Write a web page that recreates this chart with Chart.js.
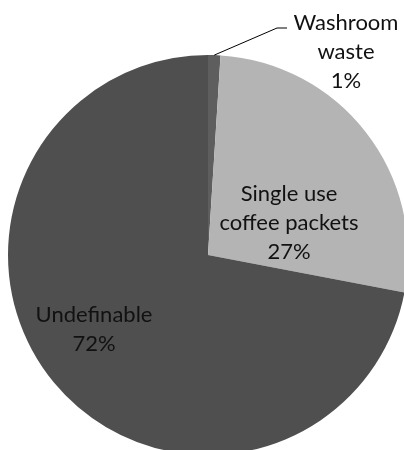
<!DOCTYPE html>
<html>
<head>
<meta charset="utf-8">
<script src="https://cdn.jsdelivr.net/npm/chart.js@4.4.1/dist/chart.umd.min.js"></script>
<style>
  html, body { margin: 0; padding: 0; background: #fff; overflow: hidden; }
  #wrap { width: 416px; height: 510px; }
</style>
</head>
<body>
<div id="wrap"><canvas id="c" width="416" height="510"></canvas></div>
<script>
const categories = ['Washroom waste', 'Single use coffee packets', 'Undefinable'];
const shares = [1, 27, 72];
const labelLines = [['Washroom', 'waste', '1%'], ['Single use', 'coffee packets', '27%'], ['Undefinable', '72%']];
const colors = ['#5e5e5e', '#b4b4b4', '#4f4f4f'];

// label anchors as fractions of the radius, relative to the pie centre
const labelAt = [[0.69, -1.015], [0.405, -0.16], [-0.57, 0.37]];

const pieLabels = {
  id: 'pieLabels',
  afterDatasetsDraw(chart) {
    const ctx = chart.ctx;
    const meta = chart.getDatasetMeta(0);
    ctx.save();
    ctx.font = '22px Lato, "Open Sans", sans-serif';
    ctx.fillStyle = '#111';
    ctx.textAlign = 'center';
    ctx.textBaseline = 'middle';
    meta.data.forEach((arc, i) => {
      const r = arc.outerRadius;
      const x = arc.x + labelAt[i][0] * r;
      const y = arc.y + labelAt[i][1] * r;
      const lines = labelLines[i];
      const lh = 29;
      lines.forEach((t, k) => {
        ctx.fillText(t, x, y + (k - (lines.length - 1) / 2) * lh);
      });
      if (i === 0) {
        // leader line from slice edge to label
        const mid = (arc.startAngle + arc.endAngle) / 2;
        const ex = arc.x + Math.cos(mid) * r;
        const ey = arc.y + Math.sin(mid) * r;
        const ly = y - lh;
        ctx.strokeStyle = '#000';
        ctx.lineWidth = 1;
        ctx.beginPath();
        ctx.moveTo(ex, ey);
        ctx.lineTo(x - 69, ly + 5);
        ctx.lineTo(x - 59, ly + 5);
        ctx.stroke();
      }
    });
    ctx.restore();
  }
};

new Chart(document.getElementById('c'), {
  type: 'pie',
  data: {
    labels: categories,
    datasets: [{
      data: shares,
      backgroundColor: colors,
      borderWidth: 0
    }]
  },
  options: {
    responsive: false,
    animation: false,
    layout: { padding: { left: 8, right: 8, top: 55, bottom: 55 } },
    plugins: {
      legend: { display: false },
      tooltip: { enabled: false }
    }
  },
  plugins: [pieLabels]
});
</script>
</body>
</html>
